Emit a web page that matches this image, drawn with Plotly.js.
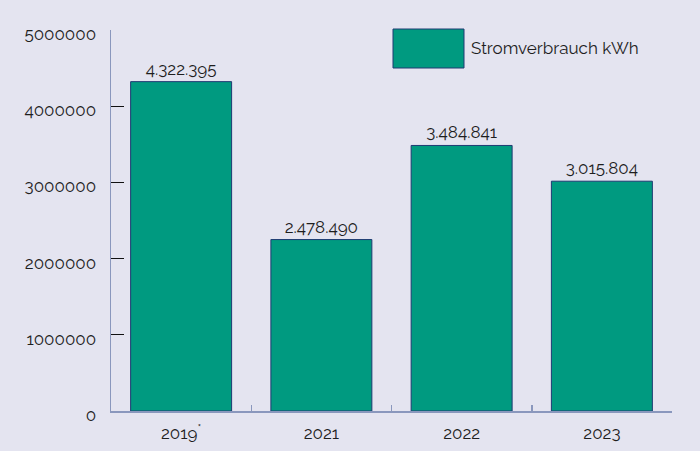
<!DOCTYPE html>
<html>
<head>
<meta charset="utf-8">
<script src="https://cdn.plot.ly/plotly-3.0.1.min.js"></script>
<style>html,body{margin:0;padding:0;background:#e4e4f0;}#chart{width:700px;height:451px;}</style>
</head>
<body>
<div id="chart"></div>
<script>
var categories = ["2019<sup>*</sup>", "2021", "2022", "2023"];
var barValues = [4322395, 2250000, 3484841, 3015804];
var barLabels = ["4.322.395", "2.478.490", "3.484.841", "3.015.804"];
var seriesName = "Stromverbrauch kWh";
var yTickValues = [0, 1000000, 2000000, 3000000, 4000000, 5000000];
var yTickLabels = ["0", "1000000", "2000000", "3000000", "4000000", "5000000"];

var FONT = "Raleway, Lato, 'Open Sans', sans-serif";
var TEAL = "#009a80";
var EDGE = "#1e3a72";
var BG = "#e4e4f0";
var TXT = "#1e1e1e";

var trace = {
  type: "bar",
  x: categories,
  y: barValues,
  name: seriesName,
  text: barLabels,
  textposition: "outside",
  cliponaxis: false,
  textfont: {family: FONT, size: 17, color: TXT},
  marker: {color: TEAL, line: {color: EDGE, width: 1}},
  width: 0.72,
  hoverinfo: "none"
};

var layout = {
  width: 700, height: 451,
  paper_bgcolor: BG, plot_bgcolor: BG,
  margin: {l: 111, r: 28, t: 30, b: 40},
  showlegend: false,
  font: {family: FONT, size: 17, color: TXT},
  xaxis: {
    type: "category",
    showline: true, linecolor: "#8a97bd", linewidth: 1.5,
    ticks: "inside", tickson: "boundaries", ticklen: 6, tickcolor: "#8a97bd", tickwidth: 1.5,
    showgrid: false, zeroline: false,
    tickfont: {family: FONT, size: 17, color: TXT},
    ticklabelstandoff: 6
  },
  yaxis: {
    range: [0, 5000000],
    showline: true, linecolor: "#8a97bd", linewidth: 1.5,
    ticks: "inside", ticklen: 13, tickcolor: "#111", tickwidth: 1,
    tickvals: yTickValues, ticktext: yTickLabels,
    showgrid: false, zeroline: false,
    tickfont: {family: FONT, size: 17, color: TXT},
    ticklabelstandoff: 10,
    ticklabelshift: 4
  },
  shapes: [{
    type: "rect", xref: "paper", yref: "paper",
    x0: (393 - 111) / 561, x1: (464 - 111) / 561,
    y0: (411 - 68) / 381, y1: (411 - 29) / 381,
    fillcolor: TEAL, line: {color: EDGE, width: 1}
  }],
  annotations: [{
    xref: "paper", yref: "paper",
    x: (469 - 111) / 561, y: (411 - 48.5) / 381,
    xanchor: "left", yanchor: "middle",
    text: seriesName, showarrow: false,
    font: {family: FONT, size: 17, color: TXT}
  }]
};

Plotly.newPlot("chart", [trace], layout, {displayModeBar: false, staticPlot: true});
</script>
</body>
</html>
